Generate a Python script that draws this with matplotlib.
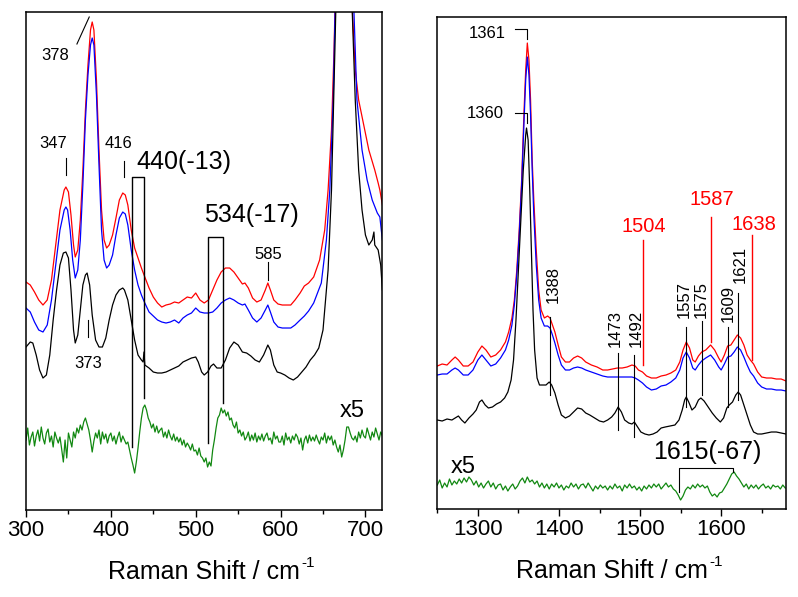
import matplotlib
matplotlib.use('Agg')
import matplotlib.pyplot as plt
from matplotlib.ticker import MultipleLocator
import numpy as np

plt.rcParams['font.family'] = ['Liberation Sans', 'DejaVu Sans']

# ---- left panel (300-720 cm-1), readings are heights measured down from the top ----
L_TOP = 510
red_l_x = [300, 305, 310, 315, 320, 325, 330, 335, 340, 345, 347, 350, 353, 356, 358, 361, 364, 367, 370, 373, 376, 378,
           380, 383, 386, 389, 392, 395, 398, 402, 406, 410, 414, 417, 420, 424, 428, 432, 436, 440, 445, 450, 455, 460,
           465, 470, 475, 480, 485, 490, 495, 500, 505, 510, 515, 520, 525, 530, 535, 540, 545, 550, 555, 558, 562, 567,
           572, 577, 582, 585, 588, 592, 597, 602, 607, 612, 617, 623, 628, 633, 639, 646, 652, 656, 660, 663, 666, 675,
           684, 688, 692, 698, 704, 711, 715, 717, 720]
red_l_r = [282, 285, 292, 300, 305, 300, 280, 245, 210, 190, 187, 192, 215, 245, 257, 250, 220, 170, 110, 65, 30, 22,
           30, 80, 150, 210, 240, 248, 245, 235, 218, 200, 193, 195, 205, 230, 248, 258, 268, 277, 288, 297, 303, 307,
           305, 304, 302, 303, 300, 297, 298, 293, 300, 303, 300, 290, 280, 272, 268, 268, 272, 278, 284, 283, 288, 298,
           302, 300, 290, 283, 290, 300, 304, 305, 305, 305, 300, 293, 286, 283, 277, 260, 230, 190, 130, 50, -60, -700,
           0, 70, 100, 125, 150, 170, 183, 190, 205]

blue_l_x = [300, 305, 310, 315, 320, 325, 330, 335, 340, 345, 347, 349, 352, 355, 358, 361, 364, 367, 370, 373, 376, 378,
            380, 383, 386, 389, 392, 395, 398, 402, 406, 410, 414, 417, 420, 424, 428, 432, 436, 440, 445, 450, 455, 460,
            465, 470, 475, 480, 485, 490, 495, 500, 505, 510, 515, 520, 525, 530, 535, 540, 545, 550, 555, 558, 562, 567,
            572, 577, 582, 585, 588, 592, 597, 602, 607, 612, 617, 623, 628, 633, 639, 648, 654, 658, 662, 666, 675,
            686, 690, 696, 702, 708, 714, 717, 720]
blue_l_r = [308, 312, 322, 330, 332, 325, 300, 265, 230, 210, 207, 210, 230, 260, 278, 270, 240, 185, 120, 75, 45, 38,
            45, 95, 165, 230, 260, 268, 265, 255, 235, 218, 212, 214, 225, 250, 270, 285, 295, 303, 312, 316, 320, 322,
            323, 322, 320, 323, 318, 315, 313, 308, 312, 313, 313, 312, 308, 303, 300, 298, 300, 303, 305, 304, 310, 318,
            322, 318, 310, 305, 312, 322, 327, 328, 328, 328, 325, 320, 316, 311, 303, 283, 240, 190, 100, -60, -700,
            0, 100, 150, 180, 200, 213, 217, 240]

black_l_x = [300, 305, 308, 312, 316, 320, 324, 328, 332, 336, 340, 344, 347, 350, 353, 356, 358, 361, 364, 367, 370, 372,
             375, 378, 382, 386, 390, 394, 398, 402, 406, 410, 414, 416, 420, 424, 428, 432, 436, 438, 439, 440, 445, 450,
             455, 460, 465, 470, 475, 480, 485, 490, 495, 500, 503, 507, 510, 514, 518, 521, 525, 530, 535, 540, 545, 550,
             555, 560, 565, 570, 575, 580, 585, 588, 592, 596, 600, 605, 610, 615, 620, 625, 630, 635, 640, 645, 650, 656,
             660, 664, 667, 675, 684, 688, 692, 696, 700, 704, 708, 710, 711, 715, 718, 720]
black_l_r = [347, 342, 343, 355, 370, 378, 375, 355, 320, 290, 265, 253, 252, 258, 290, 330, 343, 335, 310, 285, 275, 273,
             285, 315, 340, 347, 347, 338, 320, 305, 295, 290, 288, 290, 300, 320, 340, 355, 360, 362, 352, 365, 368, 372,
             373, 373, 372, 370, 368, 366, 362, 360, 358, 357, 362, 372, 375, 372, 366, 364, 368, 368, 360, 348, 342, 345,
             352, 353, 356, 360, 362, 355, 345, 350, 365, 372, 373, 375, 378, 380, 377, 372, 367, 360, 355, 348, 330, 270,
             190, 50, -60, -700, 0, 100, 170, 210, 235, 245, 240, 232, 245, 250, 265, 290]

# difference spectrum (x5), read every 2 cm-1
green_l_x = np.arange(300, 721, 2)
green_l_r = [440, 428, 445, 437, 432, 446, 436, 430, 441, 427,
             438, 444, 433, 429, 442, 436, 447, 432, 438, 443,
             437, 449, 462, 440, 458, 433, 440, 447, 432, 438,
             428, 433, 425, 430, 422, 418, 424, 430, 440, 452,
             441, 433, 438, 430, 444, 432, 439, 434, 443, 436,
             433, 441, 436, 444, 437, 432, 442, 436, 440, 444,
             442, 450, 458, 465, 473, 462, 448, 432, 418, 408,
             405, 410, 418, 422, 428, 424, 432, 426, 433, 430,
             428, 437, 432, 438, 430, 436, 440, 434, 441, 437,
             442, 438, 445, 440, 447, 443, 446, 450, 444, 451,
             450, 455, 448, 456, 458, 462, 458, 467, 462, 466,
             450, 440, 428, 418, 415, 408, 413, 410, 416, 412,
             420, 418, 425, 428, 422, 433, 430, 436, 432, 440,
             437, 432, 441, 435, 440, 433, 442, 436, 440, 434,
             441, 436, 433, 440, 438, 444, 432, 439, 436, 442,
             442, 436, 445, 433, 440, 437, 443, 436, 440, 434,
             437, 444, 438, 450, 440, 436, 443, 435, 441, 437,
             441, 435, 440, 444, 437, 440, 433, 443, 436, 440,
             436, 445, 440, 447, 452, 445, 457, 450, 440, 427,
             427, 433, 438, 440, 436, 442, 432, 438, 430, 436,
             438, 428, 434, 440, 432, 437, 428, 434, 440, 432,
             436]

# ---- right panel (1250-1680 cm-1) ----
R_TOP = 509
red_r_x = [1250, 1256, 1262, 1268, 1272, 1276, 1282, 1288, 1294, 1300, 1305, 1310, 1316, 1322, 1328, 1334, 1338, 1342,
           1345, 1348, 1351, 1354, 1357, 1359, 1361, 1363, 1365, 1367, 1369, 1372, 1375, 1378, 1382, 1386, 1389, 1392,
           1395, 1399, 1403, 1408, 1413, 1418, 1423, 1428, 1433, 1440, 1447, 1454, 1460, 1466, 1472, 1478, 1484, 1490,
           1494, 1498, 1503, 1508, 1514, 1520, 1526, 1532, 1538, 1544, 1549, 1553, 1557, 1561, 1565, 1568, 1572, 1576,
           1581, 1587, 1592, 1597, 1600, 1604, 1608, 1612, 1616, 1620, 1624, 1628, 1632, 1636, 1640, 1645, 1650, 1656,
           1662, 1668, 1674, 1680]
red_r_r = [366, 364, 365, 360, 357, 360, 366, 366, 362, 352, 346, 350, 357, 355, 350, 342, 332, 318, 300, 270, 230, 180,
           110, 70, 43, 60, 100, 160, 200, 250, 290, 310, 318, 316, 318, 325, 332, 345, 357, 362, 362, 358, 356, 358,
           362, 365, 367, 370, 370, 369, 368, 368, 367, 365, 366, 370, 372, 376, 378, 378, 376, 375, 373, 370, 362, 350,
           342, 348, 360, 362, 356, 352, 350, 345, 350, 358, 362, 355, 346, 345, 340, 335, 338, 345, 355, 360, 364, 372,
           377, 378, 378, 379, 379, 381]

blue_r_r = [375, 374, 374, 370, 368, 370, 375, 375, 370, 360, 355, 360, 366, 364, 358, 350, 340, 325, 305, 275, 235, 185,
            120, 80, 57, 75, 115, 170, 215, 265, 300, 318, 326, 326, 328, 335, 343, 355, 365, 370, 370, 368, 367, 368,
            370, 372, 374, 376, 377, 377, 377, 377, 377, 377, 378, 380, 383, 387, 390, 389, 386, 385, 382, 378, 370, 358,
            352, 358, 368, 370, 365, 361, 358, 355, 360, 367, 370, 364, 357, 356, 352, 347, 350, 357, 365, 372, 376, 383,
            387, 389, 389, 390, 390, 391]

black_r_x = [1250, 1256, 1262, 1268, 1272, 1276, 1280, 1284, 1289, 1294, 1298, 1302, 1305, 1309, 1313, 1318, 1323, 1328,
             1333, 1337, 1341, 1344, 1347, 1350, 1353, 1356, 1359, 1360, 1362, 1364, 1366, 1368, 1370, 1373, 1376, 1380,
             1384, 1388, 1391, 1395, 1399, 1403, 1408, 1413, 1418, 1423, 1428, 1433, 1438, 1444, 1450, 1455, 1460, 1465,
             1469, 1473, 1477, 1481, 1486, 1490, 1493, 1497, 1501, 1506, 1511, 1516, 1521, 1526, 1531, 1537, 1543, 1548,
             1552, 1555, 1557, 1560, 1564, 1568, 1572, 1575, 1579, 1584, 1589, 1594, 1599, 1603, 1607, 1610, 1614, 1618,
             1621, 1624, 1628, 1632, 1636, 1640, 1645, 1650, 1656, 1662, 1668, 1674, 1680]
black_r_r = [420, 421, 419, 420, 418, 416, 420, 423, 418, 414, 410, 402, 400, 405, 408, 407, 404, 402, 398, 392, 380, 360,
             320, 270, 220, 170, 135, 128, 140, 190, 250, 310, 350, 378, 385, 385, 385, 382, 385, 393, 405, 415, 418, 416,
             412, 408, 409, 413, 415, 418, 421, 422, 420, 417, 413, 407, 412, 420, 423, 424, 422, 427, 432, 434, 435, 434,
             432, 428, 427, 426, 425, 420, 410, 400, 397, 402, 410, 407, 400, 398, 401, 407, 413, 418, 422, 418, 408, 405,
             402, 395, 392, 395, 405, 415, 425, 432, 434, 434, 433, 432, 432, 433, 434]

# difference spectrum (x5), read every 3 cm-1
green_r_x = np.arange(1250, 1680, 3)
green_r_r = [485, 480, 488, 483, 487, 479, 485, 481, 484, 479,
             483, 478, 482, 477, 480, 485, 481, 487, 483, 488,
             484, 481, 487, 483, 489, 485, 484, 490, 486, 491,
             487, 484, 489, 486, 481, 478, 483, 477, 482, 480,
             484, 481, 487, 483, 488, 484, 489, 484, 487, 483,
             488, 485, 490, 486, 488, 483, 487, 484, 489, 485,
             484, 488, 483, 487, 491, 486, 489, 485, 488, 486,
             490, 486, 489, 484, 488, 486, 491, 485, 488, 484,
             488, 486, 490, 487, 491, 486, 489, 485, 488, 484,
             487, 484, 489, 486, 483, 487, 485, 489, 491, 495,
             500, 496, 490, 487, 489, 485, 488, 484, 487, 485,
             488, 486, 492, 496, 494, 497, 493, 492, 488, 484,
             479, 474, 472, 476, 479, 483, 487, 484, 489, 485,
             488, 485, 489, 486, 484, 488, 486, 489, 485, 487,
             486, 489, 485, 488]

fig = plt.figure(figsize=(7.98, 5.97), dpi=100)
ax1 = fig.add_axes([0.0326, 0.1457, 0.4466, 0.8342])
ax2 = fig.add_axes([0.5480, 0.1474, 0.4370, 0.8241])

lw = 0.9
ax1.plot(red_l_x, L_TOP - np.array(red_l_r), color='#ff0000', lw=lw)
ax1.plot(blue_l_x, L_TOP - np.array(blue_l_r), color='#0000ff', lw=lw)
ax1.plot(black_l_x, L_TOP - np.array(black_l_r), color='black', lw=lw)
ax1.plot(green_l_x, L_TOP - np.array(green_l_r), color='#118811', lw=lw)
ax1.set_xlim(300, 720)
ax1.set_ylim(0, 498)

ax2.plot(red_r_x, R_TOP - np.array(red_r_r), color='#ff0000', lw=lw)
ax2.plot(red_r_x, R_TOP - np.array(blue_r_r), color='#0000ff', lw=lw)
ax2.plot(black_r_x, R_TOP - np.array(black_r_r), color='black', lw=lw)
ax2.plot(green_r_x, R_TOP - np.array(green_r_r), color='#118811', lw=lw)
ax2.set_xlim(1250, 1680)
ax2.set_ylim(0, 492)

for ax in (ax1, ax2):
    ax.set_yticks([])
    ax.xaxis.set_major_locator(MultipleLocator(100))
    ax.xaxis.set_minor_locator(MultipleLocator(50))
    ax.tick_params(axis='x', which='major', direction='out', length=5, width=1, labelsize=16, pad=2)
    ax.tick_params(axis='x', which='minor', direction='out', length=3, width=1)
    for s in ax.spines.values():
        s.set_linewidth(1.1)
    ax.set_xlabel('Raman Shift / cm', fontsize=18, labelpad=14)
    # superscript "-1" written with a plain hyphen, as in the original
    ax.annotate('-1', xy=(1, 0.9), xycoords=ax.xaxis.label, xytext=(1, 0), textcoords='offset points',
                ha='left', va='center', fontsize=11)

fs = 12
# left annotations
ax1.text(334, 455, '378', ha='center', va='center', fontsize=fs)
ax1.plot([360, 374.5], [466, 493], color='black', lw=0.8)
ax1.text(332, 367, '347', ha='center', va='center', fontsize=fs)
ax1.plot([347, 347], [352, 335], color='black', lw=0.8)
ax1.text(409, 367, '416', ha='center', va='center', fontsize=fs)
ax1.plot([416, 416], [349, 333], color='black', lw=0.8)
ax1.text(585, 256, '585', ha='center', va='center', fontsize=fs)
ax1.plot([585, 585], [248, 230], color='black', lw=0.8)
ax1.text(373, 147, '373', ha='center', va='center', fontsize=fs)
ax1.plot([373, 373], [190, 173], color='black', lw=0.8)

ax1.text(430, 348, '440(-13)', ha='left', va='center', fontsize=18)
ax1.plot([425, 425, 439, 439], [63, 333, 333, 112], color='black', lw=1)
ax1.text(510, 295, '534(-17)', ha='left', va='center', fontsize=18)
ax1.plot([515, 515, 532, 532], [67, 273, 273, 107], color='black', lw=1)
ax1.text(684, 99, 'x5', ha='center', va='center', fontsize=17)

# right annotations
ax2.text(1334, 476, '1361', ha='right', va='center', fontsize=fs)
ax2.plot([1346, 1361, 1361], [480, 480, 470], color='black', lw=0.8)
ax2.text(1332, 396, '1360', ha='right', va='center', fontsize=fs)
ax2.plot([1346, 1360, 1360], [396, 396, 386], color='black', lw=0.8)

rot_labels = [('1388', 1393, 206, 1389, 192, 114),
              ('1473', 1470, 162, 1473, 156, 79),
              ('1492', 1495, 162, 1492, 154, 72),
              ('1557', 1555, 191, 1557, 182, 102),
              ('1575', 1575, 191, 1577, 188, 114),
              ('1609', 1609, 187, 1609, 182, 102),
              ('1621', 1623, 226, 1621, 216, 109)]
for txt, tx, ty, lx, y0, y1 in rot_labels:
    ax2.text(tx, ty, txt, rotation=90, ha='center', va='bottom', fontsize=fs)
    ax2.plot([lx, lx], [y0, y1], color='black', lw=0.8)

for txt, tx, ty, lx, y0, y1 in [('1504', 1505, 283, 1504, 269, 144),
                                ('1587', 1589, 310, 1587, 292, 167),
                                ('1638', 1641, 285, 1638, 274, 149)]:
    ax2.text(tx, ty, txt, ha='center', va='center', fontsize=14.5, color='#ff0000')
    ax2.plot([lx, lx], [y0, y1], color='#ff0000', lw=1)

ax2.text(1516, 57, '1615(-67)', ha='left', va='center', fontsize=18)
ax2.plot([1548, 1548, 1615, 1615], [17, 41, 41, 37], color='black', lw=0.8)
ax2.text(1282, 42, 'x5', ha='center', va='center', fontsize=17)

fig.savefig('out.png', dpi=100)
